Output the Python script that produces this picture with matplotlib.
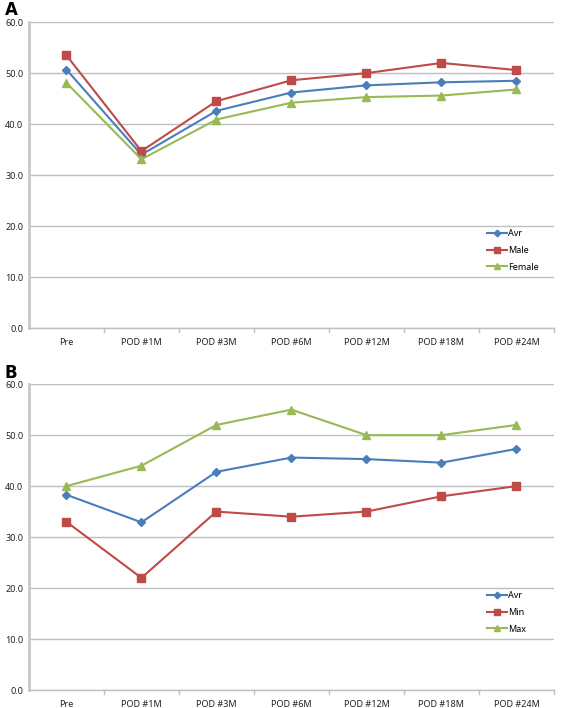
import matplotlib.pyplot as plt

cats = ["Pre", "POD #1M", "POD #3M", "POD #6M", "POD #12M", "POD #18M", "POD #24M"]

# panel A: by sex
a_avr = [50.7, 34.0, 42.6, 46.2, 47.6, 48.2, 48.5]
a_male = [53.5, 34.7, 44.5, 48.6, 50.0, 52.0, 50.6]
a_female = [48.1, 33.1, 40.9, 44.2, 45.3, 45.6, 46.8]

# panel B: range
b_avr = [38.3, 32.9, 42.8, 45.6, 45.3, 44.6, 47.3]
b_min = [33.0, 22.0, 35.0, 34.0, 35.0, 38.0, 40.0]
b_max = [40.0, 44.0, 52.0, 55.0, 50.0, 50.0, 52.0]

blue = "#4a7ebb"
red = "#be4b48"
green = "#98b954"
grid_c = "#bfbfbf"

plt.rcParams['font.family'] = ['Noto Sans', 'DejaVu Sans']

fig = plt.figure(figsize=(5.67, 7.08), dpi=100)


def panel(rect, series, letter, letter_y):
    ax = fig.add_axes(rect)
    x = range(len(cats))
    for vals, name, col, mk, ms in series:
        ax.plot(x, vals, color=col, lw=1.5, marker=mk, ms=ms, label=name,
                markeredgecolor=col, zorder=3)
    ax.set_xlim(-0.5, len(cats) - 0.5)
    ax.set_ylim(0, 60)
    ax.set_yticks(range(0, 61, 10))
    ax.set_yticklabels([f"{v:.1f}" for v in range(0, 61, 10)], fontsize=6.5)
    ax.set_xticks(list(x))
    ax.set_xticklabels(cats, fontsize=6.5)
    ax.tick_params(axis='both', length=0, pad=4, colors='#222222')
    ax.tick_params(axis='x', pad=7)
    # small separators between categories
    for b in [i + 0.5 for i in range(len(cats))]:
        ax.plot([b, b], [0, -0.8], color=grid_c, lw=1, clip_on=False)
    ax.grid(axis='y', color=grid_c, lw=1)
    ax.set_axisbelow(True)
    for s in ['top', 'right']:
        ax.spines[s].set_visible(False)
    ax.spines['left'].set_color('#c8c8c8')
    ax.spines['left'].set_linewidth(2)
    ax.spines['bottom'].set_color(grid_c)
    ax.spines['bottom'].set_linewidth(1)
    ax.legend(loc='upper left', bbox_to_anchor=(0.865, 0.335), frameon=False,
              fontsize=6.5, handlelength=2.2, handletextpad=0.2,
              labelspacing=0.85, markerscale=0.75, borderaxespad=0)
    fig.text(0.008, letter_y, letter, fontsize=12, fontweight='bold',
             family='DejaVu Sans', va='top')
    return ax


panel([0.051, 0.5367, 0.926, 0.432],
      [(a_avr, "Avr", blue, "D", 4.5), (a_male, "Male", red, "s", 5.5),
       (a_female, "Female", green, "^", 6)], "A", 0.998)
panel([0.051, 0.0254, 0.926, 0.432],
      [(b_avr, "Avr", blue, "D", 4.5), (b_min, "Min", red, "s", 5.5),
       (b_max, "Max", green, "^", 6)], "B", 0.486)

fig.savefig("out.png", dpi=100)
